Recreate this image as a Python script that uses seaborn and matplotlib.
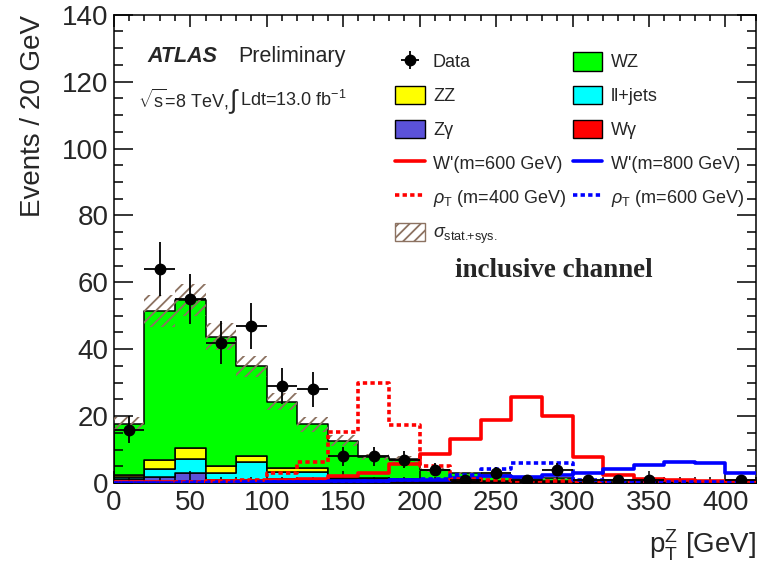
import numpy as np
import pandas as pd
import seaborn as sns
import matplotlib.pyplot as plt
from matplotlib.patches import Patch
from matplotlib.lines import Line2D

# bins of 20 GeV in pT(Z)
edges = np.arange(0, 440, 20)
centers = edges[:-1] + 10

data_events = [16, 64, 55, 42, 47, 29, 28, 8, 8, 7, 4, 1, 3, 1, 4, 1, 1, 1, 0, 0, 1]

wz = [15.3, 44.5, 44.1, 38.6, 26.8, 19.9, 13.1, 11.2, 6.3, 6.1, 2.9, 2.0, 1.7, 0.9, 0.9,
      0.75, 0.55, 0.35, 0.3, 0.25, 0.15]
zz = [0.6, 2.8, 3.5, 2.2, 1.8, 1.0, 1.0, 0.2, 0.1, 0.1, 0.1, 0.1, 0.1, 0.1, 0.1,
      0.05, 0.05, 0.05, 0.05, 0.05, 0.05]
lljets = [0.7, 2.2, 4.1, 1.9, 5.3, 2.3, 2.3, 0.2, 0.6, 0.2, 0.3, 0.1, 0.1, 0, 0,
          0, 0, 0, 0, 0, 0]
zgamma = [0.8, 1.7, 2.8, 0.4, 0.4, 0.3, 0.3, 0.3, 0.3, 0.3, 0.3, 0.4, 0.3, 0.2, 0.2,
          0.1, 0.1, 0.1, 0.05, 0.05, 0.05]
wgamma = [0.3, 0.2, 0.2, 0.6, 0.6, 0.8, 0.8, 0.8, 0.6, 0.5, 0.3, 0.3, 0.2, 0.2, 0.2,
          0.1, 0.1, 0.1, 0.1, 0.05, 0.05]
bkg_err = [2.0, 4.7, 4.8, 4.0, 3.2, 2.6, 2.2, 1.6, 0.9, 0.8, 0.5, 0.4, 0.3, 0.2, 0.2,
           0.15, 0.1, 0.1, 0.1, 0.1, 0.05]

wprime600 = [0.3, 0.3, 0.4, 0.5, 0.6, 0.8, 1.2, 2.0, 2.9, 5.6, 8.6, 13.1, 18.9, 25.6, 20.1,
             7.9, 2.5, 1.3, 0.9, 0.7, 0.6]
wprime800 = [0.1, 0.1, 0.2, 0.2, 0.3, 0.3, 0.4, 0.5, 0.6, 0.8, 1.0, 1.5, 2.0, 1.9, 2.4,
             2.9, 4.1, 5.4, 6.4, 6.0, 2.9]
rho400 = [0, 0, 0.2, 0.5, 0.8, 2.9, 6.4, 15.3, 30.0, 17.2, 5.2, 1.2, 0.8, 0.6, 0.5,
          0.4, 0.3, 0.3, 0.2, 0.2, 0.2]
rho600 = [0, 0, 0.1, 0.1, 0.2, 0.2, 0.3, 0.4, 0.6, 0.8, 1.2, 2.3, 4.2, 5.9, 5.9,
          0.8, 0.5, 0.4, 0.3, 0.3, 0.2]

processes = ["WZ", "ZZ", "ll+jets", "Zγ", "Wγ"]
colors = {"WZ": "#00ff00", "ZZ": "#ffff00", "ll+jets": "#00ffff",
          "Zγ": "#5b52d9", "Wγ": "#ff0000"}

bkg = pd.DataFrame({
    "pt": np.tile(centers, len(processes)),
    "events": np.concatenate([wz, zz, lljets, zgamma, wgamma]),
    "process": np.repeat(processes, len(centers)),
})
total = np.array(wz) + np.array(zz) + np.array(lljets) + np.array(zgamma) + np.array(wgamma)

sns.set_style("ticks")
plt.rcParams["font.family"] = ["Liberation Sans", "DejaVu Sans"]
plt.rcParams["mathtext.fontset"] = "custom"
plt.rcParams["mathtext.rm"] = "Liberation Sans"
plt.rcParams["mathtext.it"] = "Liberation Sans:italic"
plt.rcParams["hatch.linewidth"] = 1.3
plt.rcParams["hatch.color"] = "#8c7261"

fig = plt.figure(figsize=(7.59, 5.66), dpi=100)
ax = fig.add_axes([0.150, 0.1466, 0.846, 0.8274])

# stacked backgrounds (first hue level ends up on top)
sns.histplot(data=bkg, x="pt", weights="events", hue="process", hue_order=processes,
             binwidth=20, binrange=(0, 420), multiple="stack", element="step",
             palette=colors, alpha=1, edgecolor="black", linewidth=1.1,
             legend=False, ax=ax)

# uncertainty band
ax.bar(centers, 2 * np.array(bkg_err), bottom=total - np.array(bkg_err), width=20,
       fill=False, hatch="///", edgecolor="#8c7261", linewidth=0, zorder=3)

# signal hypotheses
signals = [
    (wprime600, "#ff0000", "-"),
    (wprime800, "#0000ff", "-"),
    (rho400, "#ff0000", (0, (1.2, 0.9))),
    (rho600, "#0000ff", (0, (1.2, 0.9))),
]
for vals, col, ls in signals:
    sig = pd.DataFrame({"pt": centers, "events": vals})
    sns.histplot(data=sig, x="pt", weights="events", binwidth=20, binrange=(0, 420),
                 element="step", fill=False, color=col, linewidth=2.6, linestyle=ls,
                 ax=ax, zorder=4)

# data
d = pd.DataFrame({"pt": centers, "n": data_events})
d = d[d["n"] > 0]
data_h = ax.errorbar(d["pt"], d["n"], yerr=np.sqrt(d["n"]), xerr=10, fmt="o",
                     color="black", markersize=7.5, elinewidth=1.3, capsize=0, zorder=5)

ax.set_axisbelow(False)
ax.set_xlim(0, 420)
ax.set_ylim(0, 140)
ax.set_xticks(np.arange(0, 401, 50))
ax.set_xticks(np.arange(0, 421, 10), minor=True)
ax.set_yticks(np.arange(0, 141, 20))
ax.set_yticks(np.arange(0, 141, 5), minor=True)
ax.tick_params(axis="both", which="both", direction="in", top=True, right=True,
               labelsize=20, width=1.1, color="black")
ax.tick_params(axis="x", which="major", length=8.5, pad=5)
ax.tick_params(axis="x", which="minor", length=4.3)
ax.tick_params(axis="y", which="major", length=13.5, pad=4)
ax.tick_params(axis="y", which="minor", length=6.5)
# make sure the tick objects are built with these settings
for axis in (ax.xaxis, ax.yaxis):
    for t in axis.get_major_ticks() + axis.get_minor_ticks():
        t.tick1line.set_visible(True)
        t.tick2line.set_visible(True)
for sp in ax.spines.values():
    sp.set_linewidth(1.1)
    sp.set_color("black")

ax.set_ylabel("Events / 20 GeV", fontsize=20, loc="top")
ax.yaxis.set_label_coords(-0.105, 1.0)
ax.set_xlabel(r"$\mathrm{p}_{\mathrm{T}}^{\mathrm{Z}}$ [GeV]", fontsize=20, loc="right")
ax.xaxis.set_label_coords(1.0, -0.095)

ax.text(0.053, 0.91, "ATLAS", transform=ax.transAxes, fontsize=15.5,
        fontweight="bold", fontstyle="italic", va="center")
ax.text(0.193, 0.91, "Preliminary", transform=ax.transAxes, fontsize=15.5, va="center")
ax.text(0.037, 0.818, r"$\sqrt{\mathrm{s}}$=8 TeV,", transform=ax.transAxes,
        fontsize=13, va="center")
ax.text(0.177, 0.814, r"$\int$", transform=ax.transAxes, fontsize=19, va="center")
ax.text(0.197, 0.818, r"Ldt=13.0 fb$^{\mathrm{-1}}$", transform=ax.transAxes,
        fontsize=13, va="center")
ax.text(0.532, 0.453, "inclusive channel", transform=ax.transAxes, fontsize=19.5,
        fontweight="bold", family="Liberation Serif", va="center")

# legend, filled column by column
lk = dict(linewidth=2.6)
h_wz = Patch(facecolor=colors["WZ"], edgecolor="black")
h_zz = Patch(facecolor=colors["ZZ"], edgecolor="black")
h_ll = Patch(facecolor=colors["ll+jets"], edgecolor="black")
h_zg = Patch(facecolor=colors["Zγ"], edgecolor="black")
h_wg = Patch(facecolor=colors["Wγ"], edgecolor="black")
h_w6 = Line2D([], [], color="#ff0000", **lk)
h_w8 = Line2D([], [], color="#0000ff", **lk)
h_r4 = Line2D([], [], color="#ff0000", linestyle=(0, (1.2, 0.9)), **lk)
h_r6 = Line2D([], [], color="#0000ff", linestyle=(0, (1.2, 0.9)), **lk)
h_sig = Patch(facecolor="white", edgecolor="#8c7261", hatch="///")
handles = [data_h, h_zz, h_zg, h_w6, h_r4, h_sig, h_wz, h_ll, h_wg, h_w8, h_r6]
labels = ["Data", "ZZ", "Zγ", "W'(m=600 GeV)", r"$\rho_{\mathrm{T}}$ (m=400 GeV)",
          r"$\sigma_{\mathrm{stat.\!\!\!+\!sys.}}$",
          "WZ", "ll+jets", "Wγ", "W'(m=800 GeV)", r"$\rho_{\mathrm{T}}$ (m=600 GeV)"]
fig.legend(handles, labels, ncol=2, loc="upper left",
           bbox_to_anchor=(395 / 759, 1 - 52 / 566), frameon=False, fontsize=13,
           handlelength=1.65, handleheight=1.2, handletextpad=0.45,
           labelspacing=0.8, columnspacing=0.35, borderpad=0, borderaxespad=0)

fig.savefig("out.png", dpi=100)
